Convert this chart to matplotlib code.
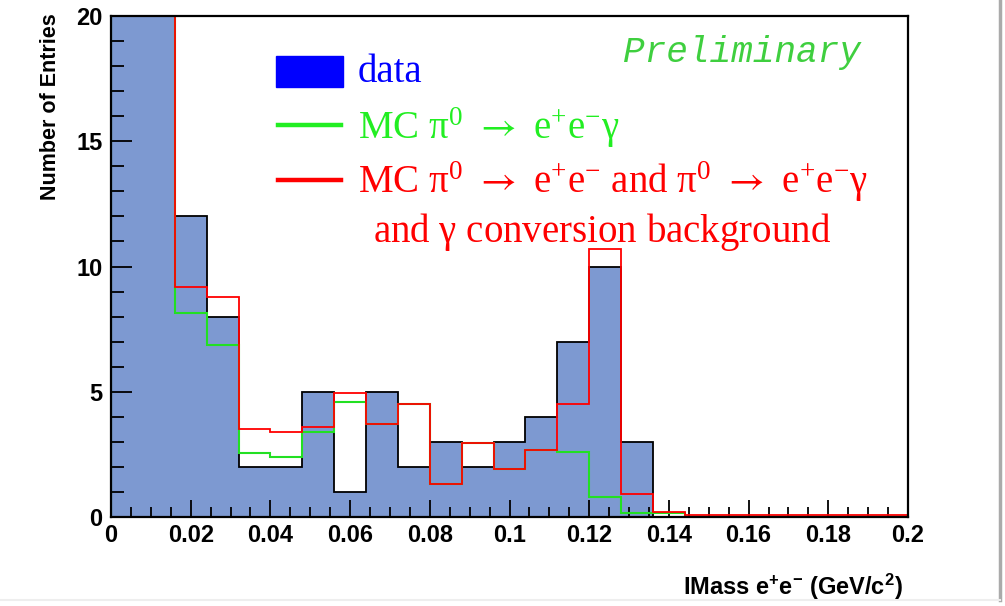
import numpy as np
import matplotlib
matplotlib.use("Agg")
import matplotlib.pyplot as plt

# invariant mass binning: 25 bins of 8 MeV from 0 to 0.2 GeV/c^2
edges = np.linspace(0.0, 0.2, 26)

# measured entries per bin (first two bins run off the top of the frame)
data_counts = [31, 26, 12, 8, 2, 2, 5, 1, 5, 2, 3, 2, 3, 4, 7, 10, 3,
               0, 0, 0, 0, 0, 0, 0, 0]

# MC pi0 -> e+e-gamma (Dalitz) only
mc_dalitz = [29, 25, 8.15, 6.85, 2.55, 2.4, 3.4, 4.6, 3.7, 4.5, 1.3, 2.95,
             1.9, 2.67, 2.6, 0.8, 0.15, 0.17, 0, 0, 0, 0, 0, 0, 0]

# MC pi0 -> e+e- + Dalitz + gamma conversion background
mc_total = [30, 27, 9.2, 8.8, 3.5, 3.4, 3.6, 4.95, 3.7, 4.5, 1.3, 2.95,
            1.9, 2.67, 4.5, 10.7, 0.9, 0.2, 0.08, 0.08, 0.08, 0.08, 0.08,
            0.08, 0.08]

y_ticks = [0, 5, 10, 15, 20]
x_ticks = [0, 0.02, 0.04, 0.06, 0.08, 0.1, 0.12, 0.14, 0.16, 0.18, 0.2]
x_ticklabels = ["0", "0.02", "0.04", "0.06", "0.08", "0.1", "0.12",
                "0.14", "0.16", "0.18", "0.2"]

plt.rcParams["mathtext.fontset"] = "custom"
plt.rcParams["mathtext.rm"] = "Liberation Serif"
plt.rcParams["mathtext.sf"] = "STIXGeneral"
plt.rcParams["mathtext.default"] = "regular"

sans_bold = {"family": "Liberation Sans", "weight": "bold"}
serif = ["Liberation Serif", "DejaVu Serif"]

fig = plt.figure(figsize=(10.05, 6.06), dpi=100)
ax = fig.add_axes([111 / 1005, 89 / 606, 797 / 1005, 501 / 606])

# data histogram: filled, black outline
ax.stairs(data_counts, edges, baseline=0, fill=True, color="#7d99d1", zorder=1)
ax.stairs(data_counts, edges, baseline=0, color="black", lw=1.3, zorder=2)

# MC curves on top
ax.stairs(mc_dalitz, edges, baseline=0, color="#22e022", lw=1.5, zorder=3)
ax.stairs(mc_total, edges, baseline=0, color="#ff0000", lw=1.3, zorder=4)

ax.set_xlim(0, 0.2)
ax.set_ylim(0, 20)

for sp in ax.spines.values():
    sp.set_linewidth(1.6)
    sp.set_color("black")
    sp.set_zorder(5)

ax.set_yticks(y_ticks)
ax.set_yticks(np.arange(0, 20.5, 1), minor=True)
ax.set_xticks(x_ticks)
ax.set_xticks(np.arange(0, 0.2001, 0.005), minor=True)
ax.set_xticklabels(x_ticklabels)
ax.tick_params(axis="both", which="both", direction="in", color="black",
               width=1.3, top=False, right=False)
ax.tick_params(axis="y", which="major", length=15, pad=6)
ax.tick_params(axis="y", which="minor", length=9)
ax.tick_params(axis="x", which="major", length=12, pad=5)
ax.tick_params(axis="x", which="minor", length=7)
for lab in ax.get_xticklabels() + ax.get_yticklabels():
    lab.set_fontfamily("Liberation Sans")
    lab.set_fontweight("bold")
    lab.set_fontsize(17)

# legend drawn by hand, ROOT style
fig.patches.append(plt.Rectangle((276 / 1005, 1 - 87 / 606), 67 / 1005, 31 / 606,
                                 transform=fig.transFigure, color="#0000ff"))
fig.add_artist(plt.Line2D([278 / 1005, 341 / 1005], [1 - 125 / 606] * 2,
                          color="#22ee22", lw=3.2))
fig.add_artist(plt.Line2D([278 / 1005, 341 / 1005], [1 - 180 / 606] * 2,
                          color="#ff0000", lw=3.2))

arrow = r"$\mathsf{\rightarrow}$"
fig.text(358 / 1005, 1 - 72 / 606, "data", color="#0000ff",
         family=serif, fontsize=28, va="center")
fig.text(358 / 1005, 1 - 128 / 606,
         r"MC $\pi^{0}$ " + arrow + r" e$^{+}$e$^{-}$$\gamma$",
         color="#22ee22", family=serif, fontsize=28, va="center")
fig.text(358 / 1005, 1 - 182 / 606,
         r"MC $\pi^{0}$ " + arrow + r" e$^{+}$e$^{-}$ and $\pi^{0}$ " + arrow
         + r" e$^{+}$e$^{-}$$\gamma$",
         color="#ff0000", family=serif, fontsize=28, va="center")
fig.text(602 / 1005, 1 - 232 / 606, r"and $\gamma$ conversion background",
         color="#ff0000", family=serif, fontsize=28, va="center", ha="center")

fig.text(742 / 1005, 1 - 52 / 606, "Preliminary", color="#3fcf3f",
         family="Liberation Mono", style="italic", fontsize=26,
         va="center", ha="center")

# axis titles
fig.text(50 / 1005, 1 - 13 / 606, "Number of Entries", rotation=90,
         ha="center", va="top", fontsize=15.5, **sans_bold)
fig.text(903 / 1005, 1 - 587 / 606, r"IMass e$^{+}$e$^{-}$ (GeV/c$^{2}$)",
         ha="right", va="center", fontsize=17, **sans_bold)

# canvas border
fig.add_artist(plt.Line2D([1000 / 1005] * 2, [1 - 600 / 606, 1], color="#aaaaaa", lw=2.5))
fig.add_artist(plt.Line2D([0, 1000 / 1005], [1 - 600 / 606] * 2, color="#eeeeee", lw=1.5))

plt.savefig("out.png", dpi=100)
